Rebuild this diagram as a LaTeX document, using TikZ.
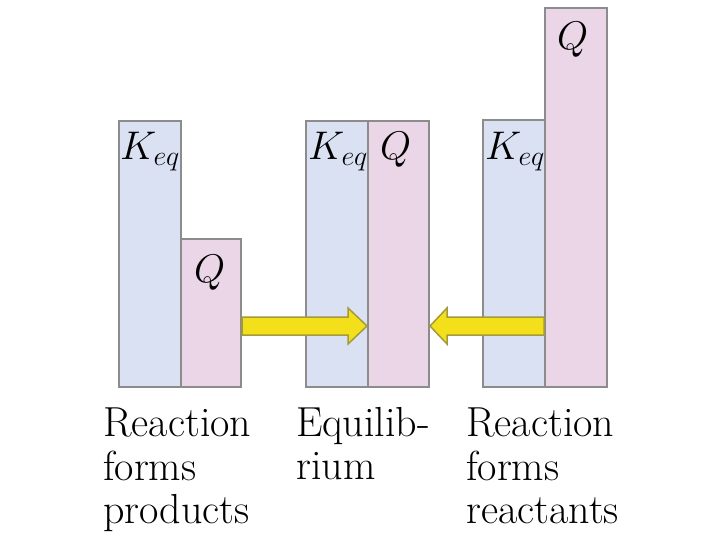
\RequirePackage{fix-cm}
\documentclass[tikz,border=0pt]{standalone}
\usetikzlibrary{calc}
\definecolor{keqblue}{HTML}{D9E1F3}
\definecolor{qpink}{HTML}{EAD6E6}
\definecolor{bargray}{HTML}{8C8C8C}
\definecolor{arrowyellow}{HTML}{F3E01A}
\definecolor{arrowedge}{HTML}{A39A3C}
\tikzset{
  bar/.style={draw=bargray, line width=2pt, anchor=north west, inner sep=0pt, minimum width=62pt},
  keqbar/.style={bar, fill=keqblue},
  qbar/.style={bar, fill=qpink},
  lbl/.style={anchor=base west, inner sep=0pt, font=\fontsize{40}{44}\selectfont},
  caption/.style={anchor=north west, inner sep=0pt, align=left, font=\fontsize{42}{43.5}\selectfont},
  blockarrow/.style={draw=arrowedge, fill=arrowyellow, line width=1.5pt, line join=miter}
}
\begin{document}
\begin{tikzpicture}[x=1pt,y=-1pt]
\useasboundingbox (0,0) rectangle (720,540);
% left group
\node[keqbar, minimum height=266pt] (k1) at (118,120) {};
\node[qbar, minimum width=60pt, minimum height=148pt] (q1) at (180,238) {};
% middle group
\node[keqbar, minimum height=266pt] (k2) at (305,120) {};
\node[qbar, minimum width=61pt, minimum height=266pt] (q2) at (367,120) {};
% right group
\node[keqbar, minimum height=267pt] (k3) at (482,119) {};
\node[qbar, minimum height=379pt] (q3) at (544,7) {};
% labels
\node[lbl] (lk1) at (120,160) {$K_{eq}$};
\node[lbl] (lq1) at (194,282) {$Q$};
\node[lbl] (lk2) at (308,160) {$K_{eq}$};
\node[lbl] (lq2) at (380,160) {$Q$};
\node[lbl] (lk3) at (485,160) {$K_{eq}$};
\node[lbl] (lq3) at (557,50) {$Q$};
% arrows
\draw[blockarrow]
  (q1.east |- 0,317) -- (348,317) -- (348,308) -- (q2.west |- 0,326) -- (348,344)
  -- (348,335) -- (q1.east |- 0,335) -- cycle;
\draw[blockarrow]
  (q3.west |- 0,317) -- (447,317) -- (447,308) -- (q2.east |- 0,326) -- (447,344)
  -- (447,335) -- (q3.west |- 0,335) -- cycle;
% captions
\node[caption] (c1) at (103,408) {Reaction\\forms\\products};
\node[caption] (c2) at (296,407) {Equilib-\\rium};
\node[caption] (c3) at (466,408) {Reaction\\forms\\reactants};
\end{tikzpicture}
\end{document}
